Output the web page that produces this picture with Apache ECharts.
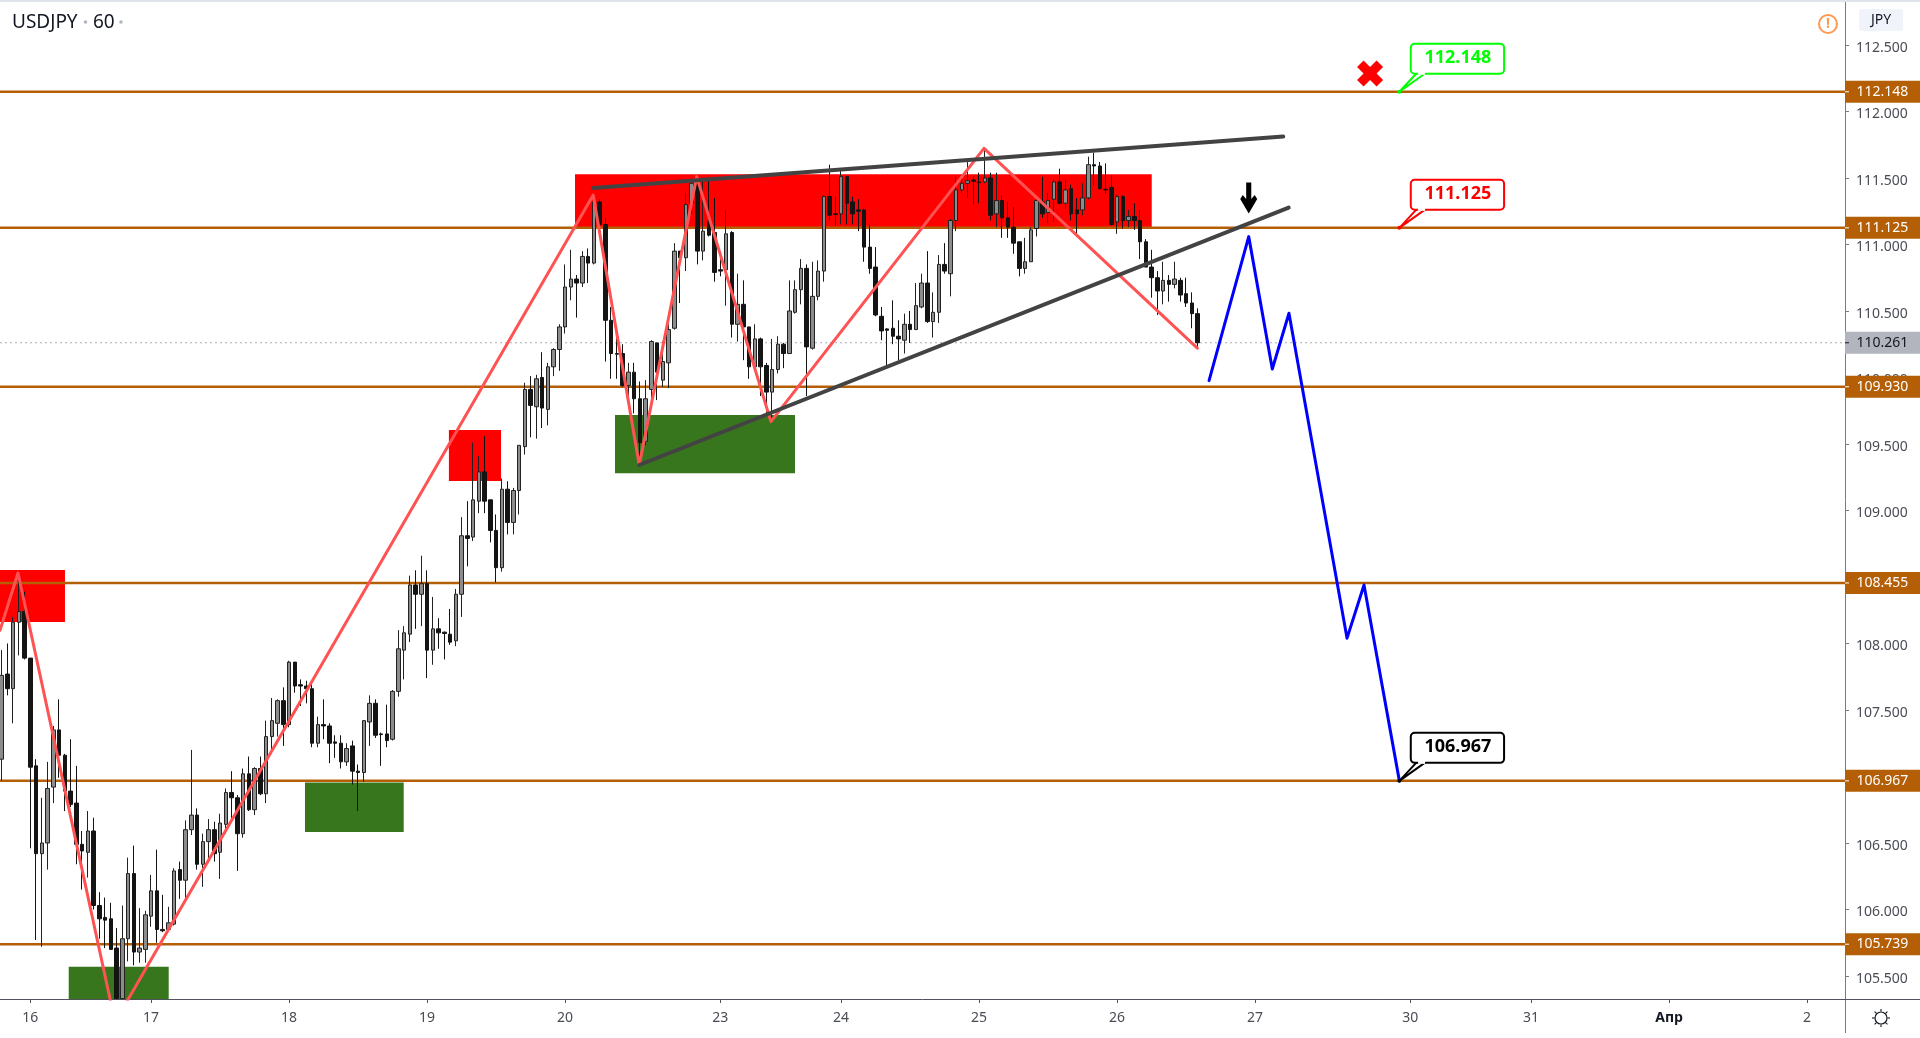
<!DOCTYPE html>
<html>
<head>
<meta charset="utf-8">
<title>USDJPY 60</title>
<style>html,body{margin:0;padding:0;background:#fff}#chart{width:1920px;height:1038px}</style>
<script src="https://cdn.jsdelivr.net/npm/echarts@6/dist/echarts.min.js"></script>
</head>
<body>
<div id="chart"></div>
<script>
const firstBar = -3;
const opens = [
107.13,107.77,107.66,108.16,108.24,107.89,107.08,106.42,106.50,106.92,
107.35,107.16,106.89,106.80,106.49,106.43,106.59,106.03,105.94,105.93,
105.71,105.33,105.78,106.27,105.68,105.70,105.95,106.14,105.85,105.85,
105.89,106.30,106.22,106.60,106.71,106.34,106.51,106.60,106.43,106.64,
106.88,106.84,106.57,107.02,106.75,107.06,106.87,107.30,107.40,107.57,
107.39,107.86,107.69,107.68,107.66,107.25,107.39,107.38,107.26,107.25,
107.11,107.23,107.04,107.03,107.41,107.55,107.32,107.32,107.28,107.64,
107.95,108.07,108.44,108.37,108.45,107.95,108.11,108.085,108.07,108.02,
108.37,108.81,108.80,109.07,109.29,109.08,108.85,108.57,109.16,108.91,
109.15,109.48,109.91,109.78,110.00,109.76,110.08,110.21,110.38,110.68,
110.74,110.71,110.91,110.86,111.32,111.15,110.43,110.18,110.18,109.94,
110.04,109.84,109.52,109.91,110.26,109.98,110.11,110.37,110.95,110.90,
111.31,111.46,110.95,111.17,111.09,110.81,110.81,111.09,110.40,110.55,
110.38,110.08,110.29,110.09,109.89,110.06,110.25,110.18,110.49,110.66,
110.82,110.22,110.61,110.80,111.36,111.23,111.23,111.51,111.32,111.26,
111.26,110.98,110.83,110.46,110.365,110.37,110.31,110.28,110.40,110.36,
110.53,110.71,110.42,110.49,110.85,110.78,111.18,111.41,111.46,111.485,
111.47,111.47,111.50,111.23,111.33,111.20,111.13,111.02,110.82,110.87,
111.12,111.32,111.24,111.34,111.47,111.31,111.42,111.26,111.26,111.35,
111.60,111.59,111.415,111.43,111.17,111.36,111.18,111.21,111.18,111.02,
110.83,110.75,110.65,110.73,110.70,110.73,110.63,110.56,110.48];
const closes = [
107.76,107.66,108.16,108.24,107.89,107.07,106.42,106.50,106.91,107.35,
107.16,106.89,106.79,106.49,106.44,106.59,106.03,105.93,105.92,105.70,
105.33,105.78,106.27,105.68,105.71,105.96,106.14,105.85,105.84,105.90,
106.29,106.22,106.60,106.71,106.34,106.51,106.60,106.42,106.65,106.88,
106.84,106.57,107.02,106.75,107.06,106.87,107.30,107.42,107.57,107.39,
107.86,107.68,107.68,107.66,107.25,107.39,107.38,107.25,107.25,107.11,
107.21,107.04,107.03,107.42,107.55,107.31,107.315,107.27,107.64,107.96,
108.08,108.44,108.37,108.45,107.95,108.11,108.08,108.075,108.01,108.37,
108.81,108.79,109.08,109.29,109.07,108.85,108.57,109.16,108.91,109.15,
109.49,109.91,109.79,109.99,109.77,110.08,110.21,110.38,110.68,110.74,
110.71,110.91,110.86,111.32,111.15,110.43,110.18,110.175,109.94,110.04,
109.84,109.51,109.84,110.27,110.04,110.12,110.36,110.95,110.90,111.30,
111.46,110.95,111.10,111.07,110.79,110.80,111.08,110.40,110.55,110.38,
110.08,110.29,110.08,109.89,110.06,110.25,110.18,110.50,110.66,110.82,
110.23,110.61,110.80,111.36,111.22,111.225,111.51,111.31,111.23,111.25,
110.98,110.82,110.47,110.35,110.355,110.31,110.29,110.40,110.36,110.54,
110.71,110.42,110.49,110.85,110.80,111.18,111.41,111.46,111.48,111.475,
111.465,111.50,111.22,111.33,111.20,111.13,111.01,110.82,110.87,111.11,
111.33,111.23,111.33,111.47,111.31,111.41,111.23,111.23,111.35,111.60,
111.59,111.42,111.41,111.15,111.36,111.18,111.21,111.18,111.02,110.83,
110.75,110.65,110.73,110.70,110.74,110.62,110.56,110.48,110.261];
const lows = [
106.97,107.61,107.40,107.91,107.88,106.46,105.77,105.72,106.30,106.80,
106.99,106.74,106.77,106.34,106.15,106.24,106.00,105.78,105.71,105.70,
105.33,105.33,105.61,105.58,105.60,105.60,105.87,105.75,105.83,105.84,
105.88,106.08,106.08,106.56,106.30,106.17,106.37,106.36,106.23,106.57,
106.67,106.29,106.54,106.74,106.71,106.86,106.80,107.17,107.30,107.23,
107.37,107.63,107.53,107.55,107.22,107.22,107.28,107.10,107.14,107.06,
107.08,106.94,106.74,106.96,107.23,107.29,107.08,107.22,107.27,107.60,
107.73,108.01,108.11,108.13,107.74,107.84,107.96,107.88,107.99,107.98,
108.20,108.58,108.77,108.98,108.98,108.76,108.46,108.54,108.82,108.82,
108.97,109.42,109.55,109.54,109.62,109.64,110.01,110.05,110.33,110.58,
110.45,110.68,110.71,110.85,111.05,110.12,109.99,109.99,109.93,109.78,
109.73,109.36,109.49,109.82,109.83,109.93,109.92,110.36,110.56,110.80,
111.23,110.85,110.88,111.06,110.72,110.76,110.54,110.30,110.27,110.13,
109.99,110.07,109.86,109.73,109.67,110.03,110.07,110.18,110.48,110.55,
109.86,110.21,110.58,110.72,111.18,111.14,111.15,111.15,111.15,111.10,
110.87,110.78,110.46,110.28,110.08,110.25,110.13,110.18,110.26,110.36,
110.52,110.41,110.30,110.41,110.78,110.61,111.10,111.39,111.35,111.30,
111.31,111.46,111.18,111.13,111.05,111.05,110.93,110.76,110.78,110.87,
111.06,111.20,111.16,111.17,111.30,111.27,111.18,111.06,111.22,111.34,
111.44,111.41,111.38,111.14,111.08,111.12,111.13,111.11,110.89,110.83,
110.60,110.47,110.55,110.57,110.67,110.57,110.53,110.37,110.22];
const highs = [
107.95,108.00,108.20,108.53,108.39,107.89,107.13,106.84,107.11,107.38,
107.58,107.17,107.28,107.08,106.59,106.74,106.69,106.13,106.09,106.05,
105.86,106.03,106.39,106.48,106.01,105.99,106.26,106.45,106.11,106.02,
106.31,106.36,106.67,107.20,106.76,106.57,106.68,106.66,106.72,106.91,
107.04,106.86,107.06,107.15,107.07,107.15,107.42,107.59,107.58,107.67,
107.87,107.86,107.73,107.72,107.71,107.45,107.58,107.40,107.31,107.31,
107.25,107.27,107.09,107.42,107.61,107.58,107.33,107.54,107.65,108.10,
108.13,108.51,108.55,108.66,108.55,108.35,108.19,108.09,108.26,108.41,
108.95,109.07,109.51,109.41,109.56,109.08,108.97,109.24,109.22,109.17,
109.49,109.96,110.01,110.02,110.19,110.11,110.22,110.40,110.85,110.96,
110.77,110.95,110.97,111.37,111.34,111.20,110.53,110.38,110.25,110.11,
110.11,109.97,109.98,110.28,110.26,110.27,110.40,111.01,110.95,111.39,
111.47,111.51,111.50,111.50,111.35,110.90,111.26,111.10,110.78,110.73,
110.38,110.40,110.30,110.11,110.29,110.31,110.26,110.73,110.73,110.89,
110.85,110.87,110.88,111.37,111.60,111.36,111.57,111.51,111.36,111.34,
111.27,111.15,110.98,110.53,110.37,110.58,110.43,110.48,110.50,110.71,
110.78,110.95,110.64,110.92,111.01,111.19,111.51,111.51,111.62,111.51,
111.54,111.72,111.54,111.54,111.37,111.32,111.28,111.02,111.05,111.13,
111.35,111.51,111.39,111.49,111.57,111.49,111.45,111.35,111.46,111.66,
111.69,111.62,111.61,111.52,111.37,111.37,111.26,111.31,111.26,111.04,
110.96,110.80,110.87,110.77,110.87,110.75,110.75,110.64,110.52];

const xMin = -3.27, xMax = 317.6, yMin = 105.327, yMax = 112.838;

const dayTicks  = [2,23,47,71,95,122,143,167,191,215,242,263,287,311];
const dayLabels = ['16','17','18','19','20','23','24','25','26','27','30','31','Апр','2'];
const priceTicks = [105.5,106,106.5,107,107.5,108,108.5,109,109.5,110,110.5,111,111.5,112,112.5];

const levels = [112.148,111.125,109.930,108.455,106.967,105.739];
const lastPrice = 110.261;

// [left bar, right bar, top price, bottom price]
const redZones = [[xMin,8.03,108.553,108.162],[74.8,83.86,109.605,109.222],[96.73,197.03,111.528,111.132]];
const greenZones = [[8.68,26.07,105.57,yMin],[49.77,66.94,106.955,106.583],[103.69,134.99,109.718,109.28]];

const zigzag = [[xMin,108.10],[-0.14,108.53],[16.73,105.154],[99.9,111.372],[107.9,109.342],[117.9,111.51],[130.8,109.668],[167.86,111.723],[204.96,110.22]];
const upperTrend = [[99.9,111.425],[219.9,111.811]];
const lowerTrend = [[107.9,109.342],[220.85,111.277]];
const forecast = [[207.0,109.976],[213.9,111.059],[218,110.064],[220.9,110.483],[231,108.04],[233.95,108.44],[240.1,106.967]];

const targets = [112.148,111.125,106.967];
const targetBar = 240.1;
const targetColors = ['#00ff00','#ff0000','#000000'];
const arrowPoint = [213.9,111.35];
const crossPoint = [235.0,112.286];

const FONT = '"Noto Sans", "Open Sans", sans-serif';
const candles = opens.map((o,i)=>[firstBar+i,o,closes[i],lows[i],highs[i]]);

const plain = {silent:true, animation:false};
const hline = p => ({...plain, type:'line', z:2, symbol:'none',
  data:[[xMin,p],[xMax,p]], lineStyle:{color:'#b45f06',width:2.5}});
const path = (d,color,width,z) => ({...plain, type:'line', z, symbol:'none', data:d,
  lineStyle:{color,width,cap:'round',join:'round'}});

function zoneSeries(d,color){
  return {...plain, type:'custom', z:1, data:d, encode:{x:[0,1],y:[2,3]},
    renderItem(params,api){
      const a = api.coord([api.value(0),api.value(2)]);
      const b = api.coord([api.value(1),api.value(3)]);
      return {type:'rect', shape:{x:a[0],y:a[1],width:b[0]-a[0],height:b[1]-a[1]}, style:{fill:color}};
    }};
}

const badgeData = levels.map(p=>[p,'#b45f06','#ffffff']).concat([[lastPrice,'#b2b5be','#131722']]);
const badges = {...plain, type:'custom', z:6, data:badgeData.map(b=>[xMax,b[0]]), clip:false,
  renderItem(params,api){
    const c = api.coord([api.value(0),api.value(1)]);
    const b = badgeData[params.dataIndex];
    const x = c[0], y = c[1];
    return {type:'group', children:[
      {type:'rect', shape:{x:x,y:y-11,width:75,height:22}, style:{fill:b[1]}},
      {type:'line', shape:{x1:x,y1:y,x2:x+4,y2:y}, style:{stroke:b[2],lineWidth:1}},
      {type:'text', style:{x:x+11.5,y:y,text:b[0].toFixed(3),fill:b[2],font:'14px '+FONT,textAlign:'left',textVerticalAlign:'middle'}}
    ]};
  }};

const callouts = {...plain, type:'custom', z:8, clip:false, data:targets.map(p=>[targetBar,p]),
  renderItem(params,api){
    const c = api.coord([api.value(0),api.value(1)]);
    const col = targetColors[params.dataIndex];
    const x = c[0], y = c[1];
    return {type:'group', children:[
      {type:'polygon', shape:{points:[[x,y],[x+17.7,y-19],[x+26.7,y-19]]}, style:{fill:'#fff',stroke:col,lineWidth:2,lineJoin:'round'}},
      {type:'rect', shape:{x:x+11.4,y:y-48,width:93.3,height:30,r:4}, style:{fill:'#fff',stroke:col,lineWidth:2}},
      {type:'rect', shape:{x:x+18.7,y:y-20,width:7,height:3}, style:{fill:'#fff'}},
      {type:'circle', shape:{cx:x,cy:y,r:2}, style:{fill:col}},
      {type:'text', style:{x:x+58.5,y:y-34,text:api.value(1).toFixed(3),fill:col,font:'bold 18px '+FONT,textAlign:'center',textVerticalAlign:'middle'}}
    ]};
  }};

const option = {
  animation:false,
  backgroundColor:'#ffffff',
  grid:{left:0,top:0,width:1845,height:999,containLabel:false},
  xAxis:{type:'value',min:xMin,max:xMax,splitLine:{show:false},
    axisLine:{show:true,onZero:false,lineStyle:{color:'#50535e',width:1}},
    axisTick:{show:true,length:4,customValues:dayTicks,lineStyle:{color:'#50535e'}},
    axisLabel:{customValues:dayTicks,margin:12,color:'#4a4c55',fontFamily:FONT,fontSize:14,
      formatter:v=>{const s=dayLabels[dayTicks.indexOf(v)];return s==='Апр'?'{b|Апр}':s;},
      rich:{b:{fontWeight:'bold',color:'#131722',fontFamily:FONT,fontSize:14}}}},
  yAxis:{type:'value',position:'right',min:yMin,max:yMax,splitLine:{show:false},
    axisLine:{show:true,onZero:false,lineStyle:{color:'#787b86',width:1}},
    axisTick:{show:true,length:4,customValues:priceTicks,lineStyle:{color:'#787b86'}},
    axisLabel:{customValues:priceTicks,margin:11,verticalAlign:'top',lineHeight:6,color:'#4a4c55',fontFamily:FONT,fontSize:14,
      formatter:v=>v.toFixed(3)}},
  series:[
    zoneSeries(redZones,'#ff0000'),
    zoneSeries(greenZones,'#38761d'),
    ...levels.map(hline),
    {...plain,type:'line',z:2,symbol:'none',data:[[xMin,lastPrice],[xMax,lastPrice]],
      lineStyle:{color:'#a8abb5',width:1,type:[2,3]}},
    {...plain,type:'candlestick',z:3,data:candles,encode:{x:0,y:[1,2,3,4]},barWidth:4,
      itemStyle:{color:'#8c8c8c',color0:'#141414',borderColor:'#222222',borderColor0:'#141414',borderWidth:1}},
    path(zigzag,'#ff5252',3,4),
    path(upperTrend,'#434343',4,5),
    path(lowerTrend,'#434343',4,5),
    path(forecast,'#0000ff',3,5),
    {...plain,type:'scatter',z:7,data:[arrowPoint],symbolSize:[17,31],
      symbol:'path://M7 0 H13 V17 L17 13 L20 17 L10 32 L0 17 L3 13 L7 17 Z',itemStyle:{color:'#000',opacity:1}},
    {...plain,type:'scatter',z:7,data:[crossPoint],symbolSize:26,
      symbol:'path://M6 0 L12 6 L18 0 L24 6 L18 12 L24 18 L18 24 L12 18 L6 24 L0 18 L6 12 L0 6 Z',itemStyle:{color:'#ff0000',opacity:1}},
    badges,
    callouts
  ],
  graphic:[
    {type:'rect',silent:true,z:100,shape:{x:0,y:0,width:1920,height:2},style:{fill:'#e0e3eb'}},
    {type:'text',silent:true,z:100,style:{x:12,y:23,text:'USDJPY',fill:'#131722',font:'19px '+FONT,textVerticalAlign:'middle'}},
    {type:'circle',silent:true,z:100,shape:{cx:85.5,cy:22,r:1.8},style:{fill:'#b2b5be'}},
    {type:'text',silent:true,z:100,style:{x:93,y:23,text:'60',fill:'#131722',font:'19px '+FONT,textVerticalAlign:'middle'}},
    {type:'circle',silent:true,z:100,shape:{cx:121,cy:22,r:1.8},style:{fill:'#b2b5be'}},
    {type:'circle',silent:true,z:100,shape:{cx:1828,cy:24,r:9},style:{fill:'#fff',stroke:'#ff9850',lineWidth:2}},
    {type:'text',silent:true,z:100,style:{x:1828,y:24,text:'!',fill:'#ff9850',font:'bold 14px '+FONT,textAlign:'center',textVerticalAlign:'middle'}},
    {type:'rect',silent:true,z:100,shape:{x:1859,y:9,width:44,height:22,r:3},style:{fill:'#f0f3fa'}},
    {type:'text',silent:true,z:100,style:{x:1881,y:20,text:'JPY',fill:'#131722',font:'14px '+FONT,textAlign:'center',textVerticalAlign:'middle'}},
    {type:'line',silent:true,z:100,shape:{x1:1845.5,y1:999,x2:1845.5,y2:1033},style:{stroke:'#787b86',lineWidth:1}},
    {type:'line',silent:true,z:100,shape:{x1:1845,y1:999.5,x2:1920,y2:999.5},style:{stroke:'#50535e',lineWidth:1}},
    {type:'circle',silent:true,z:100,shape:{cx:1881,cy:1018,r:6},style:{fill:'#fff',stroke:'#131722',lineWidth:1.2}},
    ...[[0,-9,0,-6.5],[0,6.5,0,9],[-9,0,-6.5,0],[6.5,0,9,0],[-6.4,-6.4,-4.6,-4.6],[4.6,-4.6,6.4,-6.4],[-6.4,6.4,-4.6,4.6],[4.6,4.6,6.4,6.4]].map(s=>({
      type:'line',silent:true,z:100,shape:{x1:1881+s[0],y1:1018+s[1],x2:1881+s[2],y2:1018+s[3]},style:{stroke:'#131722',lineWidth:1.1}}))
  ]
};
echarts.init(document.getElementById('chart'),null,{renderer:'canvas'}).setOption(option);
</script>
</body>
</html>
